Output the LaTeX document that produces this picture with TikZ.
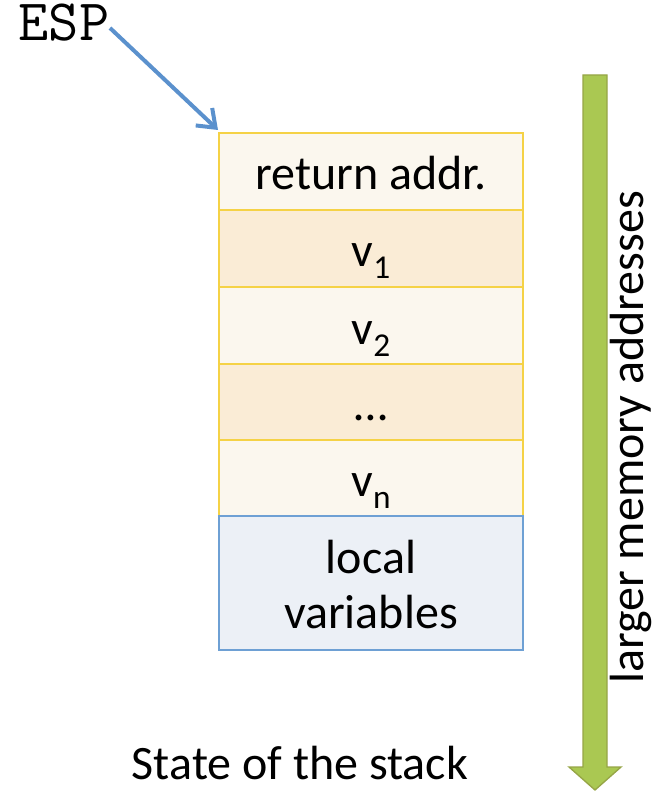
\documentclass[tikz,border=0pt]{standalone}
\usepackage{fontspec}
\setmainfont{Carlito}
\usetikzlibrary{arrows.meta}
\definecolor{lightrow}{RGB}{251,247,238}
\definecolor{darkrow}{RGB}{250,236,214}
\definecolor{yborder}{RGB}{245,210,70}
\definecolor{bfill}{RGB}{236,240,246}
\definecolor{bborder}{RGB}{110,160,212}
\definecolor{espblue}{RGB}{91,145,205}
\definecolor{gfill}{RGB}{170,200,82}
\definecolor{gborder}{RGB}{150,165,70}
\newcommand\vsub[1]{v\raisebox{-9pt}{\fontsize{25}{25}\selectfont #1}}
\tikzset{
  bigtext/.style={font=\fontsize{36}{44}\selectfont},
  rowbox/.style={draw=yborder, line width=1.5pt, minimum width=228pt, minimum height=57.75pt,
    inner sep=0pt, bigtext, text height=30pt, text depth=2.25pt},
  lightbox/.style={rowbox, fill=lightrow},
  darkbox/.style={rowbox, fill=darkrow},
  localbox/.style={draw=bborder, line width=1.5pt, fill=bfill, minimum width=228pt,
    minimum height=100.5pt, inner sep=0pt},
  plain/.style={bigtext, inner sep=0pt, anchor=base},
  esparrow/.style={draw=espblue, line width=3pt, -{Straight Barb[length=12pt,width=18pt,line width=3pt]}},
  greenarrow/.style={fill=gfill, draw=gborder, line width=1pt, line join=miter}
}
\begin{document}
\begin{tikzpicture}[x=0.75pt,y=-0.75pt]
\useasboundingbox (0,0) rectangle (656,791);
% stack
\node[lightbox] (r1) at (371,171.5) {return addr.};
\node[darkbox]  (r2) at (371,248.5) {\vsub{1}};
\node[lightbox] (r3) at (371,325.5) {\vsub{2}};
\node[darkbox]  (r4) at (371,402) {…};
\node[lightbox] (r5) at (371,478) {\vsub{n}};
\node[localbox] (lv) at (371,583) {};
\node[plain] (lv1) at (371,573) {local};
\node[plain] (lv2) at (371,628) {variables};
% ESP
\node[font=\ttfamily\fontsize{44}{46}\selectfont, inner sep=0pt, anchor=base] (esp) at (64,41) {ESP};
\coordinate (espstart) at (110,28);
\coordinate (esptip) at (218,130);
\draw[esparrow] (espstart) -- (esptip);
% green arrow
\draw[greenarrow] (583,75) -- (607,75) -- (607,767) -- (621,767) -- (595,790)
  -- (569,767) -- (583,767) -- cycle;
\node[plain, rotate=90] (addr) at (643,437.5) {larger memory addresses};
% caption
\node[plain] (cap) at (300,779) {State of the stack};
\end{tikzpicture}
\end{document}
